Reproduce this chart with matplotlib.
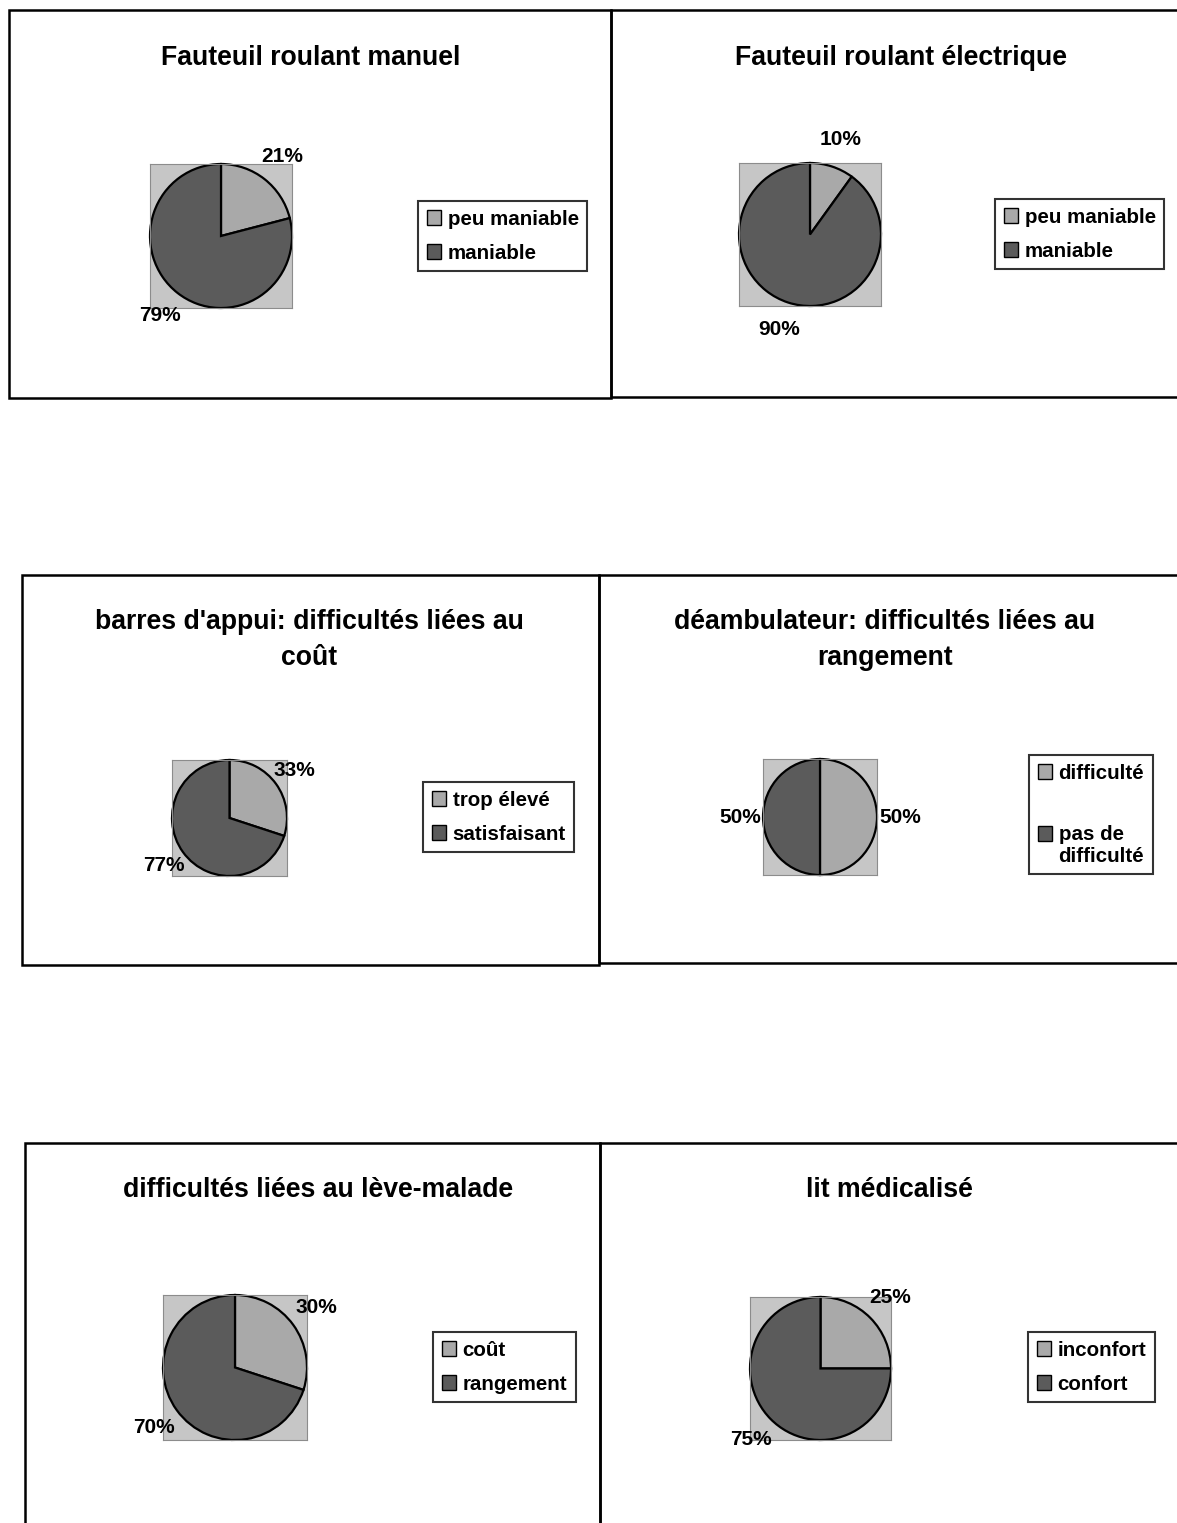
import matplotlib
matplotlib.use('Agg')
import matplotlib.pyplot as plt
from matplotlib.patches import Rectangle, Patch
from matplotlib.legend_handler import HandlerPatch
import numpy as np

plt.rcParams['font.family'] = ['Liberation Sans', 'DejaVu Sans']
plt.rcParams['font.weight'] = 'bold'

# Data
titles = [
    'Fauteuil roulant manuel',
    'Fauteuil roulant électrique',
    "barres d'appui: difficultés liées au\ncoût",
    'déambulateur: difficultés liées au\nrangement',
    'difficultés liées au lève-malade',
    'lit médicalisé',
]
slice_values = [
    [21, 79],
    [10, 90],
    [33, 77],
    [50, 50],
    [30, 70],
    [25, 75],
]
legend_labels = [
    ['peu maniable', 'maniable'],
    ['peu maniable', 'maniable'],
    ['trop élevé', 'satisfaisant'],
    ['difficulté', 'pas de\ndifficulté'],
    ['coût', 'rangement'],
    ['inconfort', 'confort'],
]

# Layout in pixels (x0, y0, x1, y1) of the reference image
W, H = 1177, 1523
panel_boxes = [
    (9, 10, 611, 398),
    (611, 10, 1200, 397),
    (22, 575, 599, 965),
    (599, 575, 1200, 963),
    (25, 1143, 600, 1540),
    (600, 1143, 1200, 1540),
]
pie_boxes = [
    (150, 164, 292, 308),
    (739, 163, 881, 306),
    (172, 760, 287, 876),
    (763, 759, 877, 875),
    (163, 1295, 307, 1440),
    (750, 1297, 891, 1440),
]
title_pos = [(311, 58), (901, 58), (309, 640), (885, 640), (318, 1190), (889, 1190)]
legend_pos = [(418, 201), (995, 199), (423, 782), (1029, 755), (433, 1332), (1028, 1332)]
legend_spacing = [0.74, 0.74, 0.74, 2.05, 0.74, 0.74]

light = '#a9a9a9'
dark = '#5b5b5b'
plot_bg = '#c6c6c6'

fig = plt.figure(figsize=(W / 100, H / 100), dpi=100)


def fx(x):
    return x / W


def fy(y):
    return 1 - y / H


def legend_square(legend, orig_handle, xdescent, ydescent, width, height, fontsize):
    # keep the square beside the first line of a two-line label
    shift = 0.6 * fontsize if getattr(orig_handle, 'two_lines', False) else 0.0
    return Rectangle((-xdescent, -ydescent + shift), width, height)


for i in range(len(titles)):
    # panel border
    x0, y0, x1, y1 = panel_boxes[i]
    fig.patches.append(Rectangle((fx(x0), fy(y1)), fx(x1 - x0), (y1 - y0) / H,
                                 transform=fig.transFigure, fill=False,
                                 edgecolor='black', linewidth=1.8))

    # title
    tx, ty = title_pos[i]
    fig.text(fx(tx), fy(ty), titles[i], ha='center', va='center',
             multialignment='center', fontsize=19.2, fontweight='bold',
             linespacing=1.5)

    # pie in a grey square plot area
    px0, py0, px1, py1 = pie_boxes[i]
    ax = fig.add_axes([fx(px0), fy(py1), fx(px1 - px0), (py1 - py0) / H])
    vals = slice_values[i]
    ax.pie(vals, colors=[light, dark], startangle=90, counterclock=False,
           radius=1.0, wedgeprops=dict(edgecolor='black', linewidth=1.6))
    ax.set_frame_on(True)
    ax.set_facecolor(plot_bg)
    ax.set_xlim(-1, 1)
    ax.set_ylim(-1, 1)
    ax.set_aspect('auto')
    ax.set_xticks([])
    ax.set_yticks([])
    for s in ax.spines.values():
        s.set_visible(True)
        s.set_edgecolor('#8c8c8c')
        s.set_linewidth(0.8)

    # percentage labels outside the pie
    total = float(sum(vals))
    start = 0.0
    for v in vals:
        mid = (start + v / 2.0) / total * 2 * np.pi
        start += v
        ax.text(1.4 * np.sin(mid), 1.4 * np.cos(mid), f'{v}%', ha='center', va='center',
                fontsize=15, fontweight='bold', clip_on=False)

    # legend
    handles = []
    for c, lab in zip((light, dark), legend_labels[i]):
        p = Patch(facecolor=c, edgecolor='black', linewidth=1.0)
        p.two_lines = '\n' in lab
        handles.append(p)
    lx, ly = legend_pos[i]
    leg = fig.legend(handles, legend_labels[i], loc='upper left',
                     bbox_to_anchor=(fx(lx), fy(ly)), bbox_transform=fig.transFigure,
                     fontsize=14.8, frameon=True, fancybox=False, shadow=False,
                     handlelength=0.72, handleheight=0.72, handletextpad=0.3,
                     labelspacing=legend_spacing[i], borderpad=0.42, borderaxespad=0,
                     handler_map={Patch: HandlerPatch(patch_func=legend_square)})
    leg.get_frame().set_edgecolor('black')
    leg.get_frame().set_linewidth(1.5)
    for t in leg.get_texts():
        t.set_fontweight('bold')
        t.set_linespacing(1.2)

fig.savefig('out.png', dpi=100, facecolor='white')
